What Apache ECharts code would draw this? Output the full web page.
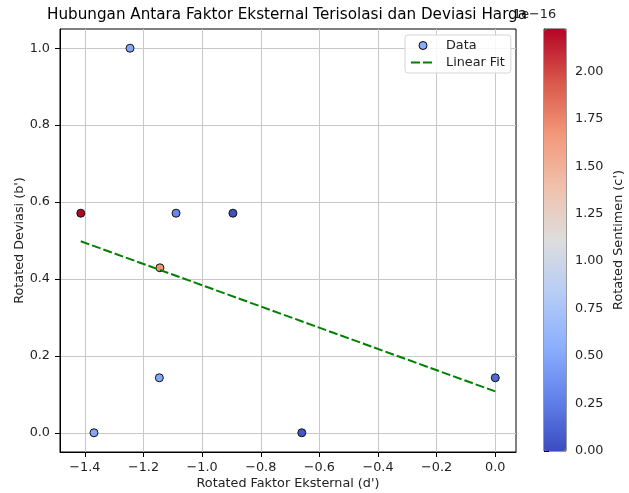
<!DOCTYPE html>
<html>
<head>
<meta charset="utf-8">
<script src="https://cdn.jsdelivr.net/npm/echarts@6/dist/echarts.min.js"></script>
<style>
  html, body { margin: 0; padding: 0; background: #fff; }
  #chart { width: 629px; height: 493px; }
</style>
</head>
<body>
<div id="chart"></div>
<script>
// data
const faktorX = [-1.246, -1.414, -1.089, -0.895, -1.144, -1.146, -1.369, -0.660, 0.0];
const deviasiY = [1.0, 0.571, 0.571, 0.571, 0.429, 0.143, 0.0, 0.0, 0.143];
const sentimenC = [0.5, 2.22, 0.31, 0.02, 1.68, 0.5, 0.5, 0.06, 0.15]; // x 1e-16

const fitX = [-1.414, 0.0];
const fitY = [0.498, 0.1075];

const xTicks = [-1.4, -1.2, -1.0, -0.8, -0.6, -0.4, -0.2, 0.0];
const yTicks = [0.0, 0.2, 0.4, 0.6, 0.8, 1.0];
const cTicks = [0.0, 0.25, 0.5, 0.75, 1.0, 1.25, 1.5, 1.75, 2.0];

const coolwarm = ["#3b4cc0", "#6282ea", "#8db0fe", "#b7ccf6", "#dddddd", "#f1c1ac", "#f2987b", "#d9574a", "#b40426"];

const FONT = "DejaVu Sans";
const FS = 12.8;
const minus = (s) => s.replace("-", "\u2212");

const chartInstance = echarts.init(document.getElementById("chart"));

const chartOpt = {
  animation: false,
  textStyle: { fontFamily: FONT },
  title: [
    {
      text: "Hubungan Antara Faktor Eksternal Terisolasi dan Deviasi Harga",
      left: 47,
      top: 8,
      padding: 0,
      textStyle: { fontFamily: FONT, fontSize: 15.2, fontWeight: "normal", color: "#000" },
    },
    {
      text: "1e\u221216",
      left: 513,
      top: 8,
      padding: 0,
      textStyle: { fontFamily: FONT, fontSize: FS, fontWeight: "normal", color: "#222" },
    },
  ],
  legend: {
    orient: "vertical",
    left: 405,
    top: 35,
    itemWidth: 24,
    itemHeight: 8,
    itemGap: 4,
    padding: [4, 6, 4, 5],
    backgroundColor: "rgba(255,255,255,0.85)",
    borderColor: "#d5d5d5",
    borderWidth: 1,
    borderRadius: 3,
    textStyle: { fontFamily: FONT, fontSize: FS, color: "#222", padding: [0, 0, 0, 6] },
    data: [
      { name: "Data", icon: "circle", itemStyle: { color: "#8badfd", borderColor: "#000", borderWidth: 1 } },
      { name: "Linear Fit", itemStyle: { opacity: 0 } },
    ],
  },
  grid: [
    { left: 60, top: 29, right: 113, bottom: 41, outerBoundsMode: "none", show: true, borderColor: "#000", borderWidth: 1 },
    { left: 544, top: 29, width: 22, height: 422, outerBoundsMode: "none", show: true, borderColor: "#333", borderWidth: 1 },
  ],
  xAxis: [
    {
      type: "value",
      gridIndex: 0,
      min: -1.4849,
      max: 0.0707,
      name: "Rotated Faktor Eksternal (d')",
      nameLocation: "middle",
      nameGap: 25,
      nameMoveOverlap: false,
      nameTextStyle: { fontFamily: FONT, fontSize: FS, color: "#222" },
      axisLine: { show: true, onZero: false, lineStyle: { color: "#000", width: 1 } },
      axisTick: { show: true, length: 5, lineStyle: { color: "#000" }, customValues: xTicks },
      axisLabel: {
        fontFamily: FONT, fontSize: FS, color: "#222", margin: 9,
        customValues: xTicks,
        formatter: (v) => minus(v.toFixed(1)),
      },
      splitLine: { show: true, lineStyle: { color: "#c8c8c8", width: 1 } },
    },
    { type: "value", gridIndex: 1, show: false, min: 0, max: 1 },
  ],
  yAxis: [
    {
      type: "value",
      gridIndex: 0,
      min: -0.05,
      max: 1.05,
      name: "Rotated Deviasi (b')",
      nameLocation: "middle",
      nameGap: 34,
      nameMoveOverlap: false,
      nameTextStyle: { fontFamily: FONT, fontSize: FS, color: "#222" },
      axisLine: { show: true, onZero: false, lineStyle: { color: "#000", width: 1 } },
      axisTick: { show: true, length: 5, lineStyle: { color: "#000" }, customValues: yTicks },
      axisLabel: {
        fontFamily: FONT, fontSize: FS, color: "#222", margin: 10,
        customValues: yTicks,
        formatter: (v) => minus(v.toFixed(1)),
      },
      splitLine: { show: true, lineStyle: { color: "#c8c8c8", width: 1 } },
    },
    {
      type: "value",
      gridIndex: 1,
      position: "right",
      min: 0,
      max: 2.223,
      name: "Rotated Sentimen (c')",
      nameLocation: "middle",
      nameRotate: 90,
      nameGap: 46,
      nameTextStyle: { fontFamily: FONT, fontSize: FS, color: "#222" },
      axisLine: { show: true, lineStyle: { color: "#333", width: 1 } },
      axisTick: { show: true, length: 5, lineStyle: { color: "#000" }, customValues: cTicks },
      axisLabel: {
        fontFamily: FONT, fontSize: FS, color: "#222", margin: 9,
        customValues: cTicks,
        formatter: (v) => v.toFixed(2),
      },
      splitLine: { show: false },
    },
  ],
  visualMap: {
    type: "continuous",
    seriesIndex: 0,
    dimension: 2,
    min: 0,
    max: 2.223,
    left: 544,
    top: 29,
    itemWidth: 22,
    itemHeight: 422,
    padding: 0,
    calculable: false,
    hoverLink: false,
    indicatorSize: 0,
    inRange: { color: coolwarm },
  },
  series: [
    {
      name: "Data",
      type: "scatter",
      xAxisIndex: 0,
      yAxisIndex: 0,
      symbolSize: 8,
      itemStyle: { borderColor: "#111", borderWidth: 1, opacity: 1 },
      data: faktorX.map((x, i) => [x, deviasiY[i], sentimenC[i]]),
    },
    {
      name: "Linear Fit",
      type: "line",
      xAxisIndex: 0,
      yAxisIndex: 0,
      symbol: "none",
      lineStyle: { color: "#008000", width: 2, type: [9, 3] },
      itemStyle: { color: "#008000" },
      data: fitX.map((x, i) => [x, fitY[i]]),
      z: 3,
    },
  ],
};

chartInstance.setOption(chartOpt);
</script>
</body>
</html>
